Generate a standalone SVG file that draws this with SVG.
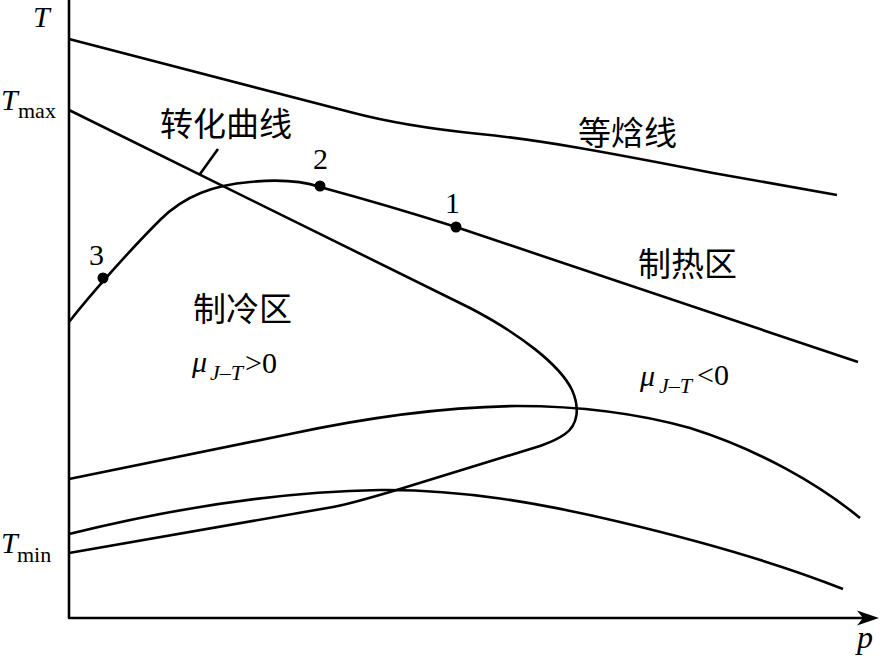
<svg xmlns="http://www.w3.org/2000/svg" width="882" height="658" viewBox="0 0 882 658">
<style>
.ln{fill:none;stroke:#000;stroke-width:2.6;stroke-linejoin:round;stroke-linecap:butt}
.it{font-family:"Liberation Serif","Times New Roman",serif;font-style:italic;fill:#000}
.rm{font-family:"Liberation Serif","Times New Roman",serif;fill:#000}
.cn{font-family:"Noto Sans CJK SC","Noto Sans CJK TC",sans-serif;font-size:33px;fill:#000}
.dot{fill:#000}
</style>
<rect width="882" height="658" fill="#fff"/>
<g id="axes">
<path class="ln" d="M69,0 L69,618 L866,618"/>
<path d="M879,618 L857,610.5 L863,618 L857,625.5 Z" fill="#000"/>
<text class="it" x="33" y="27" font-size="30">T</text>
<text class="it" x="1" y="110" font-size="30">T</text>
<text class="rm" x="18" y="118" font-size="22">max</text>
<text class="it" x="1" y="553" font-size="30">T</text>
<text class="rm" x="17" y="562" font-size="22">min</text>
<text class="it" x="857" y="648" font-size="32">p</text>
</g>
<g id="curves">
<path id="isenthalp-top" class="ln" d="M69,39 L350,112 C380,120 420,128 480,134 C540,140 600,151 713,173 L837,195"/>
<path id="inversion" class="ln" d="M69,110 L470,308 C520,334 560,365 572,390 C580,408 578,425 565,434 C555,441 548,443 540,446 L400,489 C370,498 350,504 333,507 L69,553"/>
<path id="isenthalp-123" class="ln" d="M69,322 C90,295 130,250 160,220 C185,195 215,185 250,182 C280,179 305,182 320,187 Q390,206 456,227 L858,362"/>
<path id="isenthalp-mid" class="ln" d="M69,479 L290,434 C360,419 440,407 517,406 C580,406 640,414 690,428 C760,450 820,485 860,518"/>
<path id="isenthalp-low" class="ln" d="M69,534 C150,514 260,492 380,490 C460,489 540,503 620,522 C700,541 780,564 843,589"/>
<path id="leader" class="ln" d="M218,149 L200,174"/>
</g>
<g id="points">
<circle class="dot" cx="103" cy="278" r="5.5"/>
<circle class="dot" cx="320" cy="186" r="5.5"/>
<circle class="dot" cx="456" cy="227" r="5.5"/>
<text class="rm" x="89" y="265" font-size="30">3</text>
<text class="rm" x="313" y="169" font-size="30">2</text>
<text class="rm" x="445" y="213" font-size="30">1</text>
</g>
<g id="labels">
<text class="cn" x="160" y="136">转化曲线</text>
<text class="cn" x="578" y="145">等焓线</text>
<text class="cn" x="638" y="276">制热区</text>
<text class="cn" x="193" y="321">制冷区</text>
<text class="it" x="192" y="372" font-size="30">μ</text>
<text class="it" x="210" y="380" font-size="22">J–T</text>
<text class="rm" x="245" y="373" font-size="30">&gt;0</text>
<text class="it" x="640" y="386" font-size="30">μ</text>
<text class="it" x="659" y="393" font-size="22">J–T</text>
<text class="rm" x="697" y="385" font-size="30">&lt;0</text>
</g>
</svg>
